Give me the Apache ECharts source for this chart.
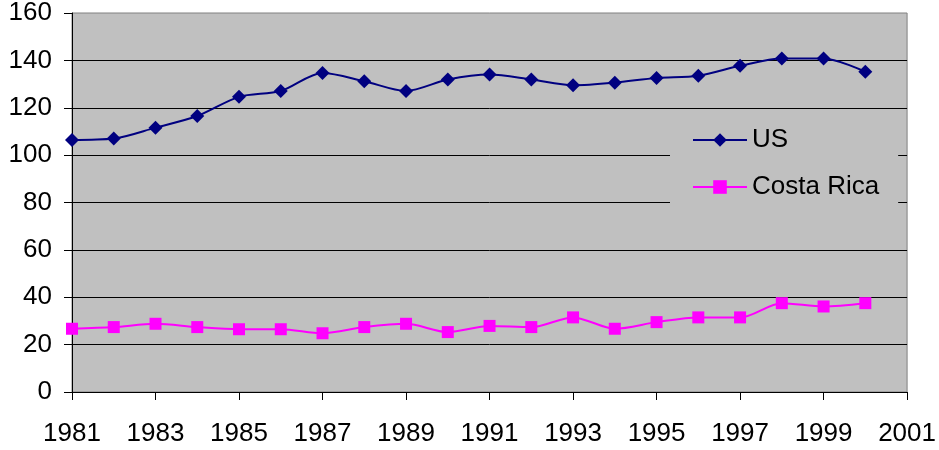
<!DOCTYPE html>
<html>
<head>
<meta charset="utf-8">
<script src="https://cdn.jsdelivr.net/npm/echarts@6/dist/echarts.min.js"></script>
<style>
html,body{margin:0;padding:0;background:#fff;}
#chart{width:939px;height:450px;}
</style>
</head>
<body>
<div id="chart"></div>
<script>
var years = [1981,1982,1983,1984,1985,1986,1987,1988,1989,1990,1991,1992,1993,1994,1995,1996,1997,1998,1999,2000];
var usValues = [106.4,107,111.6,116.5,124.6,127.1,134.7,131.2,127.1,131.9,134,131.9,129.5,130.6,132.6,133.5,137.7,140.8,140.8,135.2];
var crValues = [26.7,27.4,28.8,27.4,26.5,26.5,24.8,27.4,28.8,25.3,27.9,27.4,31.5,26.7,29.5,31.5,31.5,37.5,36.1,37.5];
var seriesNames = ['US','Costa Rica'];

function pairs(vals){ return years.map(function(y,i){ return [y, vals[i]]; }); }

var font = 'Liberation Sans, Arial, sans-serif';
var chart = echarts.init(document.getElementById('chart'), null, {renderer:'canvas'});
chart.setOption({
  animation:false,
  backgroundColor:'#ffffff',
  grid:{left:72, top:13, right:30, bottom:58, show:true, backgroundColor:'#C0C0C0', borderColor:'#808080', borderWidth:1},
  legend:{
    orient:'vertical', left:670, top:115,
    backgroundColor:'#C0C0C0',
    padding:[12,19,14,22],
    itemWidth:54, itemHeight:17, itemGap:21,
    textStyle:{fontFamily:font, fontSize:26, color:'#000', lineHeight:26},
    data:seriesNames
  },
  xAxis:{
    type:'value', min:1981, max:2001, interval:2,
    axisLine:{show:true, lineStyle:{color:'#000', width:1}},
    axisTick:{show:true, inside:false, length:8, lineStyle:{color:'#000'}},
    axisLabel:{fontFamily:font, fontSize:26, color:'#000', margin:29, formatter:function(v){return String(v);}},
    splitLine:{show:false}
  },
  yAxis:{
    type:'value', min:0, max:160, interval:20,
    axisLine:{show:true, lineStyle:{color:'#000', width:1}},
    axisTick:{show:true, inside:false, length:8, lineStyle:{color:'#000'}},
    axisLabel:{fontFamily:font, fontSize:26, color:'#000', margin:20},
    splitLine:{show:true, showMinLine:false, showMaxLine:false, lineStyle:{color:'#000', width:1}}
  },
  series:[
    {name:seriesNames[0], type:'line', data:pairs(usValues), smooth:0.3,
     symbol:'diamond', symbolSize:14,
     lineStyle:{color:'#000080', width:2}, itemStyle:{color:'#000080'}},
    {name:seriesNames[1], type:'line', data:pairs(crValues), smooth:0.3,
     symbol:'rect', symbolSize:12,
     lineStyle:{color:'#FF00FF', width:2}, itemStyle:{color:'#FF00FF'}}
  ]
});
</script>
</body>
</html>
